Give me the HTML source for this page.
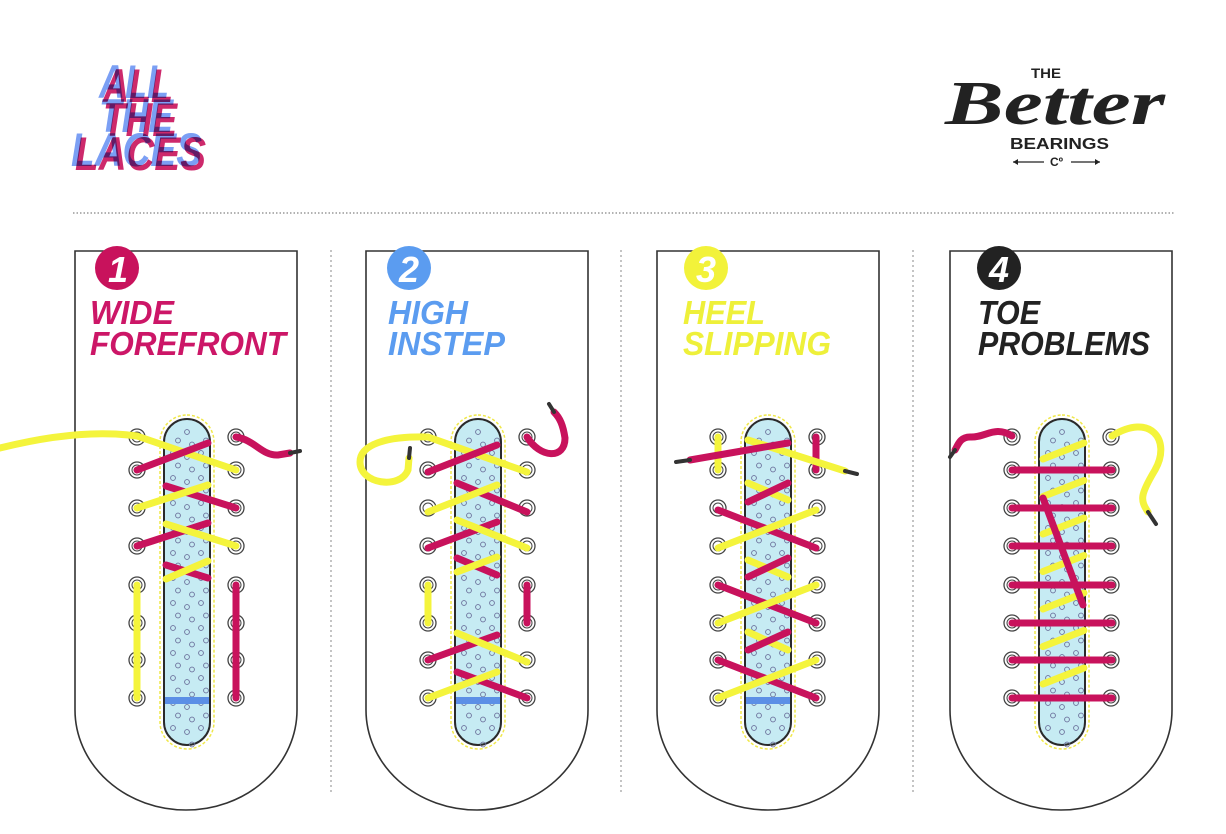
<!DOCTYPE html>
<html><head><meta charset="utf-8"><style>
html,body{margin:0;padding:0;background:#fff;}
svg{display:block;}
text{font-family:"Liberation Sans",sans-serif;font-weight:bold;}
</style></head><body>
<svg id="s" width="1226" height="834" viewBox="0 0 1226 834" xmlns="http://www.w3.org/2000/svg">
<rect width="1226" height="834" fill="#fff"/>
<line x1="73" y1="213" x2="1175" y2="213" stroke="#666" stroke-width="1" stroke-dasharray="1.5,2"/>
<g stroke="#888" stroke-width="1" stroke-dasharray="2,3">
<line x1="331" y1="250" x2="331" y2="795"/><line x1="621" y1="250" x2="621" y2="795"/><line x1="913" y1="250" x2="913" y2="795"/>
</g>
<!-- ALL THE LACES -->
<g font-style="italic" font-size="47" style="font-family:'Liberation Sans',sans-serif;font-weight:bold">
<g fill="#c8125c" opacity="0.9">
<text x="103" y="102" textLength="70" lengthAdjust="spacingAndGlyphs">ALL</text>
<text x="103" y="136" textLength="74" lengthAdjust="spacingAndGlyphs">THE</text>
<text x="75" y="170" textLength="131" lengthAdjust="spacingAndGlyphs">LACES</text>
</g>
<g fill="#4f7ff0" opacity="0.75" style="mix-blend-mode:multiply">
<text x="99" y="98" textLength="70" lengthAdjust="spacingAndGlyphs">ALL</text>
<text x="99" y="132" textLength="74" lengthAdjust="spacingAndGlyphs">THE</text>
<text x="71" y="166" textLength="131" lengthAdjust="spacingAndGlyphs">LACES</text>
</g>
</g>
<!-- Logo -->
<g fill="#222">
<text x="1031" y="78" font-size="14" textLength="30" lengthAdjust="spacingAndGlyphs">THE</text>
<text x="945" y="124" font-size="62" font-style="italic" style="font-family:'Liberation Serif',serif;font-weight:bold" textLength="220" lengthAdjust="spacingAndGlyphs">Better</text>
<text x="1010" y="149" font-size="16" textLength="99" lengthAdjust="spacingAndGlyphs">BEARINGS</text>
<text x="1050" y="166" font-size="12">Cº</text>
<line x1="1013" y1="162" x2="1044" y2="162" stroke="#222" stroke-width="1.2"/>
<line x1="1071" y1="162" x2="1100" y2="162" stroke="#222" stroke-width="1.2"/>
<path d="M1013,162 l5,-3 v6z M1100,162 l-5,-3 v6z"/>
</g>
<g id="panels"></g>
<!-- headings -->
<g font-style="italic">
<circle cx="117" cy="268" r="22" fill="#c8125c"/><text x="108" y="282" font-size="36" fill="#fff">1</text>
<text x="90" y="324" font-size="33" fill="#cc1667" textLength="84" lengthAdjust="spacingAndGlyphs">WIDE</text>
<text x="90" y="355" font-size="33" fill="#cc1667" textLength="196" lengthAdjust="spacingAndGlyphs">FOREFRONT</text>
<circle cx="409" cy="268" r="22" fill="#5b9cf0"/><text x="399" y="282" font-size="36" fill="#fff">2</text>
<text x="388" y="324" font-size="33" fill="#5b9cf0" textLength="80" lengthAdjust="spacingAndGlyphs">HIGH</text>
<text x="388" y="355" font-size="33" fill="#5b9cf0" textLength="117" lengthAdjust="spacingAndGlyphs">INSTEP</text>
<circle cx="706" cy="268" r="22" fill="#f2f23a"/><text x="696" y="282" font-size="36" fill="#fff">3</text>
<text x="683" y="324" font-size="33" fill="#eef03a" textLength="82" lengthAdjust="spacingAndGlyphs">HEEL</text>
<text x="683" y="355" font-size="33" fill="#eef03a" textLength="148" lengthAdjust="spacingAndGlyphs">SLIPPING</text>
<circle cx="999" cy="268" r="22" fill="#222"/><text x="989" y="282" font-size="36" fill="#fff">4</text>
<text x="978" y="324" font-size="33" fill="#222" textLength="62" lengthAdjust="spacingAndGlyphs">TOE</text>
<text x="978" y="355" font-size="33" fill="#222" textLength="172" lengthAdjust="spacingAndGlyphs">PROBLEMS</text>
</g>
</svg>
<script>
var NS="http://www.w3.org/2000/svg",G=document.getElementById("panels");
function el(t,a,p){var e=document.createElementNS(NS,t);for(var k in a)e.setAttribute(k,a[k]);(p||G).appendChild(e);return e;}
var P="#c8125c",Y="#f4f43c",D="#333";
var rows=[437,470,508,546,585,623,660,698];
var panels=[
{x:75,L:137,blue:1,lines:[
["Y","M0,448 Q80,428 137,436"],["Y",137,436,236,470],["P",137,470,208,443],["P",166,486,236,508],["Y",137,508,208,485],["P",137,546,208,523],["Y",166,524,236,546],["P",166,565,208,578],["Y",166,579,208,561],["Y",137,585,137,698],["P",236,585,236,698],["P","M236,437 C255,440 262,456 278,455 L290,453"],["D","M290,453 L300,451"]]},
{x:366,L:428,blue:1,lines:[
["Y","M428,437 C385,436 360,445 360,462 C360,484 400,490 408,470 L409,458"],["D","M409,458 L410,448"],["Y",428,437,527,472],["P","M527,437 C540,458 565,460 565,438 C563,425 560,418 554,412"],["D","M554,412 L549,404"],["P",428,472,497,445],["P",457,483,527,512],["Y",428,512,497,485],["P",428,548,497,522],["Y",457,520,527,548],["P",457,558,497,575],["Y",457,572,497,557],["Y",428,585,428,623],["P",527,585,527,623],["P",428,660,497,635],["Y",457,633,527,662],["P",457,672,527,698],["Y",428,698,497,672]]},
{x:657,L:718,blue:1,lines:[
["Y",718,437,718,470],["P",816,437,816,470],["Y",748,440,845,471],["D","M845,471 L857,474"],["P",690,460,788,443],["D","M690,460 L676,462"],["Y",748,483,788,500],["P",748,502,788,483],["P",718,510,816,548],["Y",718,548,816,510],["Y",748,560,788,577],["P",748,577,788,558],["P",718,585,816,623],["Y",718,623,816,585],["Y",748,632,788,650],["P",748,650,788,632],["P",718,660,816,698],["Y",718,698,816,660]]},
{x:950,L:1012,blue:0,lines:[
["P","M1012,436 C995,425 985,438 970,437 C960,437 958,445 955,450"],["D","M955,450 L950,457"],["Y","M1112,436 C1150,412 1172,440 1155,470 C1140,495 1140,500 1148,512"],["D","M1148,512 L1156,524"]]}
];
for(var k=0;k<7;k++){panels[3].lines.push(["Y",1043,459+k*37.5,1084,443+k*37.5]);}
panels[3].lines.push(["P",1043,498,1083,605]);
for(var k=1;k<8;k++){panels[3].lines.push(["P",1012,rows[k],1112,rows[k]]);}
panels.forEach(function(p){
 var x=p.x,L=p.L,R=L+99,tl=L+27,tr=L+73;
 el("path",{d:"M"+x+",251 H"+(x+222)+" V710 A111,100 0 0 1 "+x+",710 Z",fill:"#fff",stroke:"#333","stroke-width":1.6});
 el("rect",{x:tl-4,y:415,width:54,height:334,rx:27,fill:"none",stroke:"#f0e84a","stroke-width":1.5,"stroke-dasharray":"3,2"});
 el("rect",{x:tl,y:419,width:46,height:326,rx:23,fill:"#c6ebf3",stroke:"#2a2a2a","stroke-width":2});
 var i=0;
 for(var yy=428;yy<742;yy+=12.5){for(var c=0;c<3;c++){var xx=tl+9+c*14+((i%2)?5:0);if(yy<432&&(c==0||c==2))continue;if(yy>735&&c!=1)continue;el("circle",{cx:xx,cy:yy+(c==1?4:0),r:2.4,fill:"none",stroke:"#6a6f9a","stroke-width":0.9});}i++;}
 if(p.blue) el("rect",{x:tl+1,y:697,width:44,height:7,fill:"#5b8fe6"});
 rows.forEach(function(y){[L,R].forEach(function(ex){
  el("circle",{cx:ex,cy:y,r:8,fill:"#fff",stroke:"#444","stroke-width":1.3});
  el("circle",{cx:ex,cy:y,r:5,fill:"#fff",stroke:"#444","stroke-width":1});
 });});
 p.lines.forEach(function(l){
  var col=l[0]=="P"?P:l[0]=="Y"?Y:D;
  var a={stroke:col,"stroke-width":l[0]=="D"?4:7,fill:"none","stroke-linecap":"round"};
  if(typeof l[1]=="string"){a.d=l[1];el("path",a);}
  else{a.x1=l[1];a.y1=l[2];a.x2=l[3];a.y2=l[4];el("line",a);}
 });
});
</script>
</body></html>
